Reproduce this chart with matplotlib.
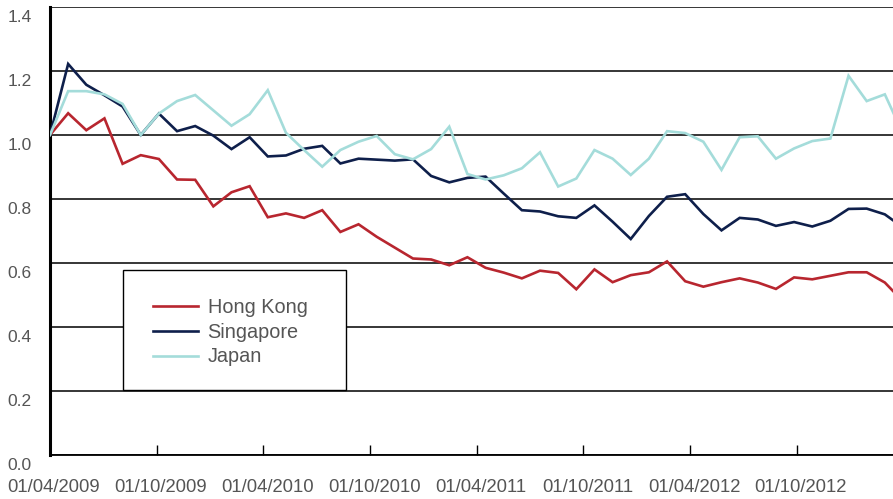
import numpy as np
import matplotlib
matplotlib.use("Agg")
import matplotlib.pyplot as plt
import matplotlib.transforms as mtransforms
from matplotlib.patches import Rectangle

plt.rcParams['font.family'] = ['Liberation Sans', 'DejaVu Sans']

# index values, base = 1.0 at 01/04/2009
hong_kong = [1.000, 1.068, 1.015, 1.052, 0.910, 0.937, 0.925, 0.861, 0.860, 0.777,
             0.821, 0.840, 0.743, 0.755, 0.741, 0.765, 0.697, 0.721, 0.682, 0.648,
             0.614, 0.611, 0.593, 0.618, 0.585, 0.570, 0.552, 0.576, 0.569, 0.518,
             0.580, 0.540, 0.562, 0.571, 0.605, 0.543, 0.526, 0.540, 0.552, 0.539,
             0.519, 0.555, 0.549, 0.560, 0.571, 0.571, 0.539, 0.480]
singapore = [1.000, 1.222, 1.157, 1.124, 1.089, 1.000, 1.067, 1.012, 1.028, 0.998,
             0.956, 0.993, 0.933, 0.936, 0.957, 0.966, 0.911, 0.926, 0.923, 0.920,
             0.924, 0.872, 0.852, 0.866, 0.870, 0.817, 0.765, 0.761, 0.746, 0.741,
             0.780, 0.729, 0.675, 0.747, 0.807, 0.815, 0.753, 0.702, 0.741, 0.736,
             0.716, 0.728, 0.714, 0.732, 0.769, 0.770, 0.752, 0.711]
japan = [1.000, 1.137, 1.137, 1.127, 1.097, 1.000, 1.067, 1.106, 1.125, 1.077,
         1.029, 1.065, 1.140, 1.007, 0.953, 0.901, 0.953, 0.979, 0.997, 0.940,
         0.924, 0.956, 1.026, 0.878, 0.861, 0.874, 0.896, 0.946, 0.839, 0.864,
         0.953, 0.926, 0.875, 0.926, 1.012, 1.006, 0.979, 0.891, 0.993, 0.996,
         0.926, 0.958, 0.981, 0.989, 1.185, 1.106, 1.127, 1.004]

series_names = ['Hong Kong', 'Singapore', 'Japan']
series_colors = ['#b8262f', '#0e1f4b', '#a4dcda']
date_labels = ['01/04/2009', '01/10/2009', '01/04/2010', '01/10/2010',
               '01/04/2011', '01/10/2011', '01/04/2012', '01/10/2012']

text_color = '#555555'
W, H = 893, 499
fig = plt.figure(figsize=(W / 100, H / 100), dpi=100)
ax = fig.add_axes([50 / W, 1 - 455 / H, 843 / W, 448 / H])

x = np.arange(len(hong_kong))
for vals, name, col in zip([hong_kong, singapore, japan], series_names, series_colors):
    ax.plot(x, vals, color=col, lw=1.9, label=name, zorder=3, solid_joinstyle='miter')

ax.set_ylim(0, 1.4)
ax.set_xlim(0, 46.45)

# grid lines
ax.set_yticks(np.arange(0, 1.41, 0.2))
ax.set_yticklabels(['%.1f' % v for v in np.arange(0, 1.41, 0.2)])
ax.yaxis.grid(True, color='black', lw=1.1, zorder=1)
ax.set_axisbelow(True)

step = 5.879  # one half-year in plot units
ax.set_xticks([k * step for k in range(len(date_labels))])
ax.set_xticklabels(date_labels)

ax.tick_params(axis='y', length=0, pad=13, labelsize=12.5, labelcolor=text_color)
ax.tick_params(axis='x', direction='in', length=7, width=1, pad=17,
               labelsize=13.3, labelcolor=text_color)

offy = mtransforms.ScaledTranslation(0, -9 / 100, fig.dpi_scale_trans)
for lab in ax.get_yticklabels():
    lab.set_transform(lab.get_transform() + offy)
offx = mtransforms.ScaledTranslation(4 / 100, 0, fig.dpi_scale_trans)
for lab in ax.get_xticklabels():
    lab.set_transform(lab.get_transform() + offx)

for s in ['top', 'right']:
    ax.spines[s].set_visible(False)
ax.spines['left'].set_linewidth(2.2)
ax.spines['bottom'].set_linewidth(1.3)

# legend box
box = Rectangle(((123 - 50) / 843, (455 - 390) / 448), 223 / 843, 120 / 448,
                transform=ax.transAxes, facecolor='white', edgecolor='black',
                lw=1.0, zorder=4)
ax.add_patch(box)
leg = ax.legend(loc='center left', bbox_to_anchor=((153 - 50) / 843, (455 - 332) / 448),
                frameon=False, fontsize=14.3, handlelength=2.25, handletextpad=0.5,
                labelspacing=0.3, borderpad=0, borderaxespad=0)
leg.set_zorder(5)
for t in leg.get_texts():
    t.set_color(text_color)

fig.savefig('out.png', dpi=100)
